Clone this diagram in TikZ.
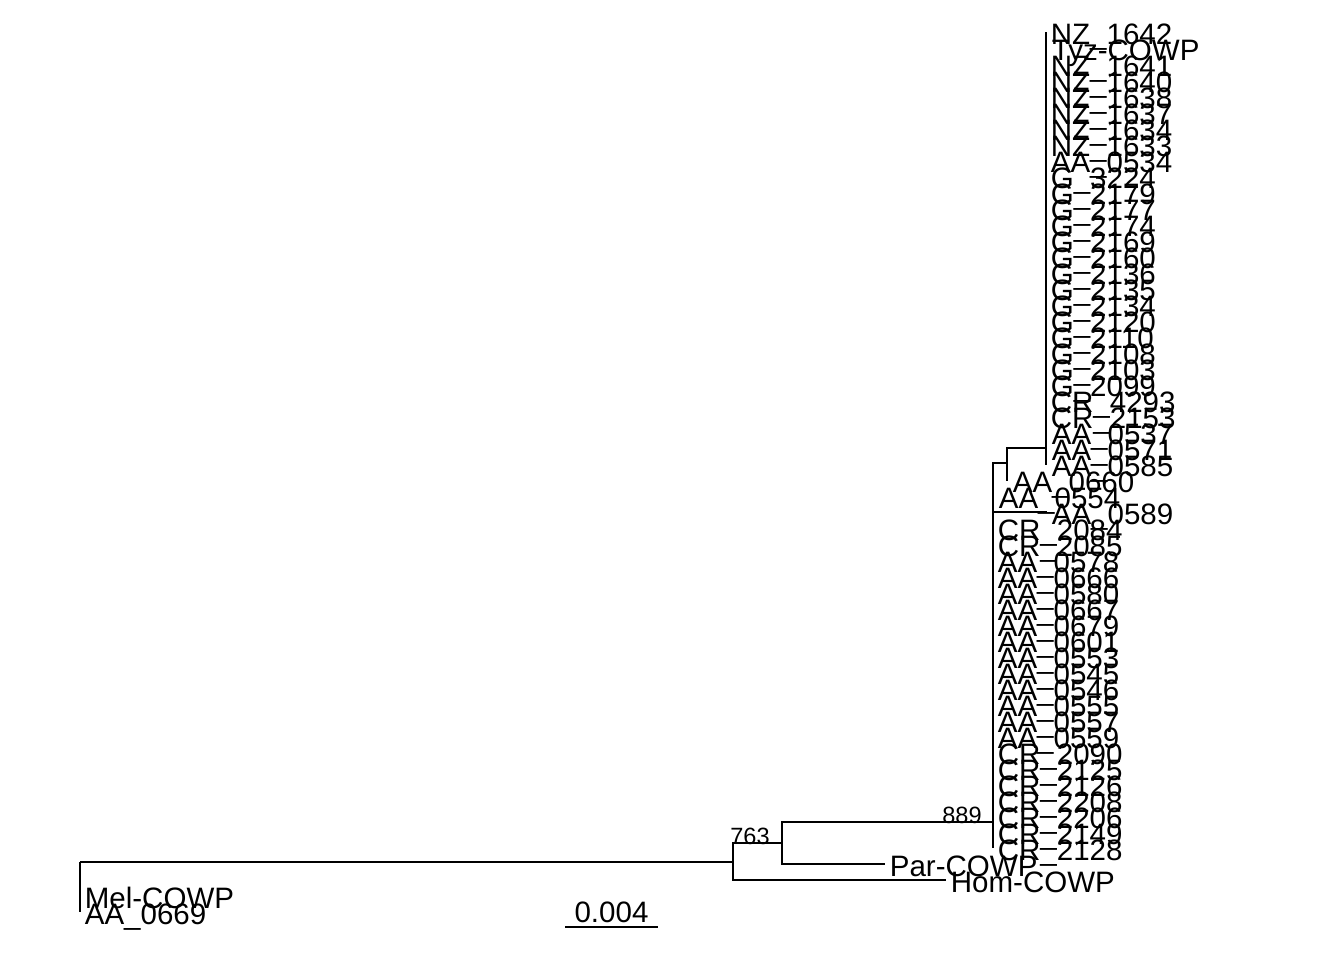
\documentclass[tikz,border=0pt]{standalone}
\usepackage{fontspec}
\setmainfont{Liberation Sans}
\usetikzlibrary{calc, positioning}

\begin{document}
\begin{tikzpicture}[x=0.02cm,y=-0.02cm]
\def\tipgap{16}
\pgfmathsetmacro{\topy}{32}
\tikzset{
  branch/.style={line width=0.95pt, black},
  tiplab/.style={anchor=base west, inner sep=0pt, font=\fontsize{16.8}{18}\selectfont},
  bootlab/.style={anchor=base east, inner sep=0pt, font=\fontsize{13.4}{15}\selectfont}
}
\useasboundingbox (0,0) rectangle (1344,960);

% Internal nodes
\coordinate (R) at (80,862);
\coordinate (A) at (733,862);
\coordinate (B) at (782,843);
\coordinate (C) at (993,822);
\coordinate (D) at (1007,463);
\coordinate (E) at (1046,448);

% Inner branches
\draw[branch] (R) |- (A);
\draw[branch] (A) |- (B);
\draw[branch] (B) |- (C);
\draw[branch] (C) |- (D);
\draw[branch] (D) |- (E);

% Tips, top to bottom
\foreach \lab/\up/\tx [count=\k] in {
    NZ\_1642/E/1046, Tyz-COWP/E/1047, NZ\_1641/E/1046, NZ\_1640/E/1046,
    NZ\_1638/E/1046, NZ\_1637/E/1046, NZ\_1634/E/1046, NZ\_1633/E/1046,
    AA\_0534/E/1046, G\_3224/E/1046, G\_2179/E/1046, G\_2177/E/1046,
    G\_2174/E/1046, G\_2169/E/1046, G\_2160/E/1046, G\_2136/E/1046,
    G\_2135/E/1046, G\_2134/E/1046, G\_2120/E/1046, G\_2110/E/1046,
    G\_2108/E/1046, G\_2103/E/1046, G\_2099/E/1046, CR\_4293/E/1046,
    CR\_2153/E/1046, AA\_0537/E/1047, AA\_0571/E/1047, AA\_0585/E/1047,
    AA\_0660/D/1008, AA\_0554/C/994, AA\_0589/C/1047, CR\_2084/C/993,
    CR\_2085/C/993, AA\_0578/C/993, AA\_0666/C/993, AA\_0580/C/993,
    AA\_0667/C/993, AA\_0679/C/993, AA\_0601/C/993, AA\_0553/C/993,
    AA\_0545/C/993, AA\_0546/C/993, AA\_0555/C/993, AA\_0557/C/993,
    AA\_0559/C/993, CR\_2090/C/993, CR\_2125/C/993, CR\_2126/C/993,
    CR\_2208/C/993, CR\_2206/C/993, CR\_2149/C/993, CR\_2128/C/993,
    Par-COWP/B/885, Hom-COWP/A/946, Mel-COWP/R/80, AA\_0669/R/80} {
  \pgfmathsetmacro{\ty}{\topy+\tipgap*(\k-1)}
  \coordinate (t\k) at (\tx,\ty);
  \draw[branch] (\up) |- (t\k);
  \node[tiplab] (l\k) at (\tx+4.5,\ty+12) {\lab};
}

% Support values
\node[bootlab] (sB) at ($(B)+(-12,1)$) {763};
\node[bootlab] (sC) at ($(C)+(-11,1)$) {889};

% Scale bar
\coordinate (s1) at (565,927);
\coordinate (s2) at (658,927);
\draw[branch] (s1) -- (s2);
\node[tiplab, anchor=base] (sl) at ($(s1)!0.5!(s2)+(0,-5)$) {0.004};
\end{tikzpicture}
\end{document}
